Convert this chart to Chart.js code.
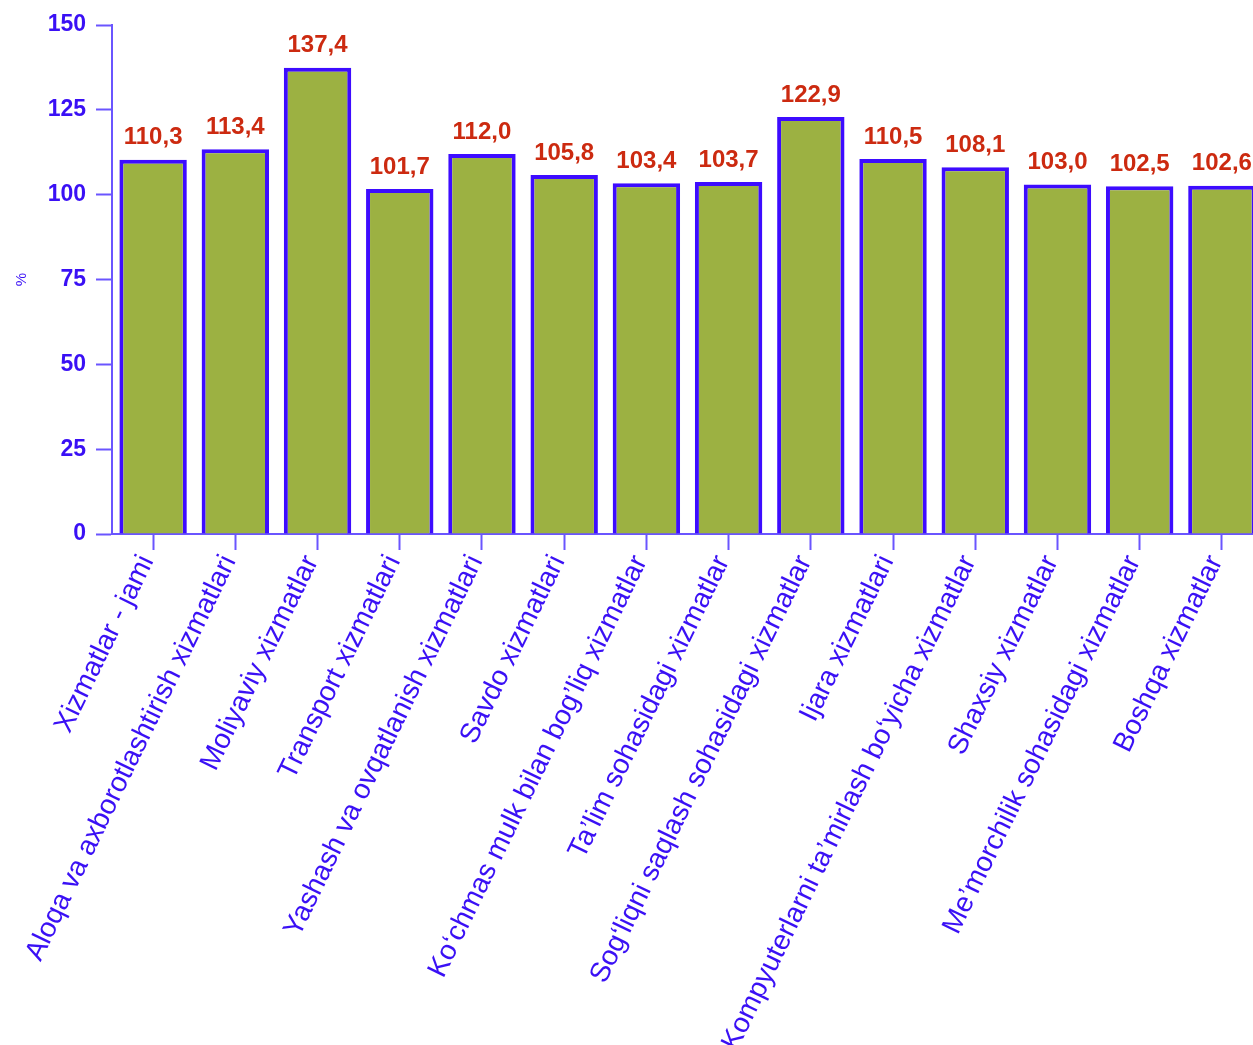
<!DOCTYPE html>
<html>
<head>
<meta charset="utf-8">
<script src="https://cdn.jsdelivr.net/npm/chart.js@4"></script>
<style>
  html, body { margin: 0; padding: 0; background: #fff; overflow: hidden; }
  #wrap { width: 1263px; height: 1045px; }
</style>
</head>
<body>
<div id="wrap"><canvas id="myChart"></canvas></div>
<script>
// categories and values (index, %)
const categories = [
    'Xizmatlar - jami',
    'Aloqa va axborotlashtirish xizmatlari',
    'Moliyaviy xizmatlar',
    'Transport xizmatlari',
    'Yashash va ovqatlanish xizmatlari',
    'Savdo xizmatlari',
    'Ko‘chmas mulk bilan bog’liq xizmatlar',
    'Ta’lim sohasidagi xizmatlar',
    'Sog‘liqni saqlash sohasidagi xizmatlar',
    'Ijara xizmatlari',
    'Kompyuterlarni ta’mirlash bo‘yicha xizmatlar',
    'Shaxsiy xizmatlar',
    'Me’morchilik sohasidagi xizmatlar',
    'Boshqa xizmatlar'
];
const values = [110.3, 113.4, 137.4, 101.7, 112.0, 105.8, 103.4, 103.7, 122.9, 110.5, 108.1, 103.0, 102.5, 102.6];
const yTicks = [0, 25, 50, 75, 100, 125, 150];

const blue = '#3a10f5';
const axisBlue = '#6a55ff';

Chart.defaults.font.family = "'Liberation Sans', Arial, sans-serif";

// draws the value above each bar, with a decimal comma
const valueLabels = {
    id: 'valueLabels',
    afterDatasetsDraw(chart) {
        const ctx = chart.ctx;
        const meta = chart.getDatasetMeta(0);
        ctx.save();
        ctx.font = "bold 24px 'Liberation Sans', Arial, sans-serif";
        ctx.fillStyle = '#cc2a10';
        ctx.textAlign = 'center';
        ctx.textBaseline = 'bottom';
        meta.data.forEach(function (bar, i) {
            ctx.fillText(values[i].toFixed(1).replace('.', ','), bar.x, bar.y - 10);
        });
        ctx.restore();
    }
};

const ctx = document.getElementById('myChart').getContext('2d');
const myChart = new Chart(ctx, {
    type: 'bar',
    data: {
        labels: categories,
        datasets: [{
            data: values,
            backgroundColor: '#9cb142',
            borderColor: '#3d0cff',
            borderWidth: 4,
            borderSkipped: 'bottom',
            barPercentage: 0.82,
            categoryPercentage: 1
        }]
    },
    options: {
        responsive: true,
        maintainAspectRatio: false,
        animation: false,
        layout: { padding: { top: 25, left: 0, right: 0, bottom: 0 } },
        plugins: {
            legend: { display: false },
            tooltip: { enabled: false }
        },
        scales: {
            x: {
                offset: true,
                grid: {
                    offset: false,
                    drawOnChartArea: false,
                    tickLength: 16,
                    tickColor: axisBlue,
                    tickWidth: 2
                },
                border: { color: axisBlue, width: 2 },
                ticks: {
                    autoSkip: false,
                    minRotation: 64,
                    maxRotation: 64,
                    padding: 0,
                    labelOffset: -6,
                    color: blue,
                    font: { size: 28 }
                },
                afterFit(scale) { scale.height = 511; }
            },
            y: {
                min: 0,
                max: 150,
                afterBuildTicks(scale) {
                    scale.ticks = yTicks.map(v => ({ value: v }));
                },
                grid: {
                    drawOnChartArea: false,
                    tickLength: 16,
                    tickColor: axisBlue,
                    tickWidth: 2
                },
                border: { color: axisBlue, width: 2 },
                ticks: {
                    padding: 10,
                    color: blue,
                    font: { size: 23, weight: 'bold' }
                },
                title: {
                    display: true,
                    text: '%',
                    color: blue,
                    font: { size: 15 },
                    padding: { top: 13 }
                },
                afterFit(scale) { scale.width = 112; }
            }
        }
    },
    plugins: [valueLabels]
});
</script>
</body>
</html>
